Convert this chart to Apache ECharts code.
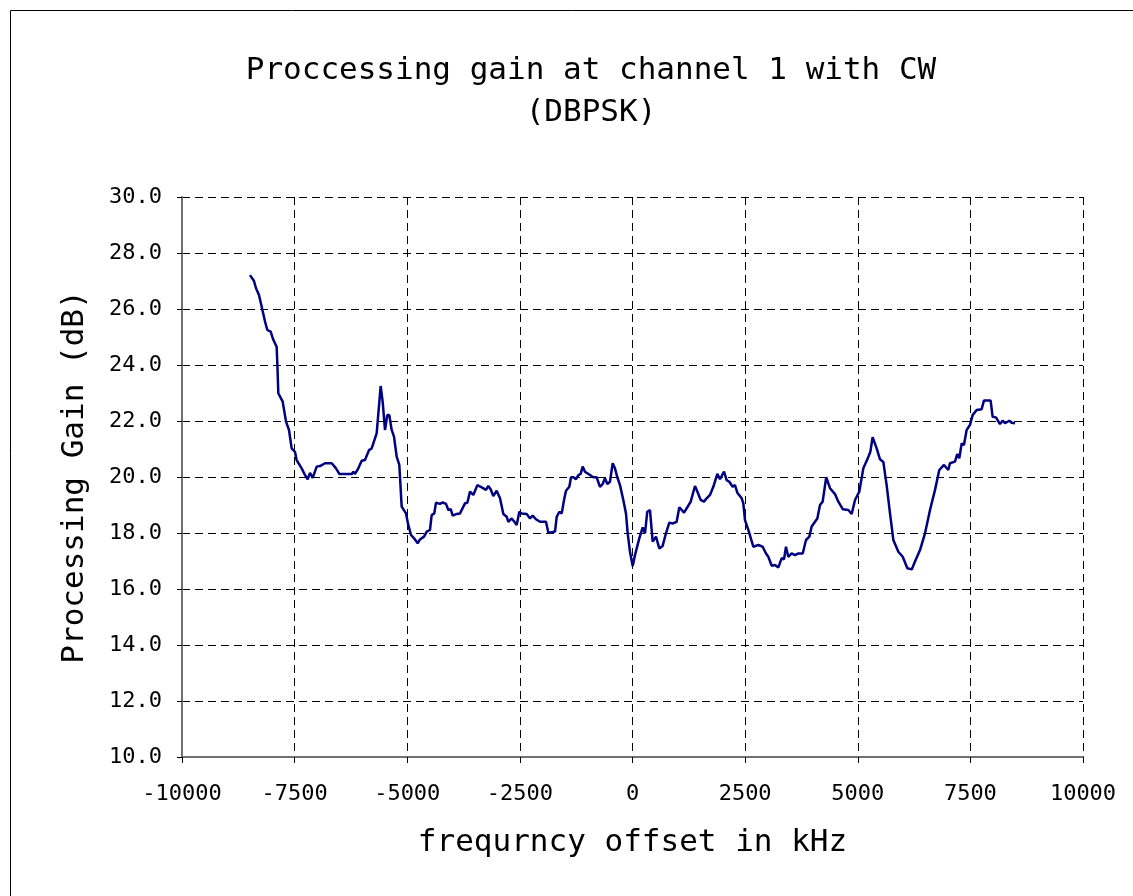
<!DOCTYPE html>
<html><head><meta charset="utf-8">
<script src="https://cdn.jsdelivr.net/npm/echarts@6/dist/echarts.min.js"></script>
<style>html,body{margin:0;padding:0;background:#fff}#c{width:1133px;height:896px}</style>
</head><body><div id="c"></div>
<script>
const titleText = 'Proccessing gain at channel 1 with CW\n(DBPSK)';
const xName = 'frequrncy offset in kHz';
const yName = 'Processing Gain (dB)';
const freq = [-8491,-8402,-8357,-8291,-8231,-8157,-8106,-8032,-7973,-7899,-7884,-7862,-7765,-7691,-7625,-7566,-7492,-7455,-7344,-7270,-7210,-7159,-7099,-7010,-6937,-6826,-6677,-6581,-6508,-6233,-6197,-6160,-6086,-6012,-5938,-5849,-5790,-5679,-5642,-5590,-5546,-5494,-5443,-5398,-5346,-5294,-5235,-5176,-5124,-5028,-4977,-4917,-4828,-4768,-4717,-4628,-4568,-4495,-4458,-4400,-4362,-4273,-4213,-4140,-4088,-4035,-3991,-3902,-3829,-3718,-3666,-3607,-3533,-3444,-3348,-3252,-3201,-3149,-3090,-3016,-2941,-2867,-2793,-2756,-2682,-2622,-2571,-2512,-2460,-2349,-2275,-2216,-2143,-2053,-1920,-1869,-1816,-1720,-1682,-1624,-1571,-1520,-1476,-1402,-1365,-1313,-1254,-1202,-1151,-1106,-1055,-944,-870,-796,-722,-662,-611,-560,-500,-440,-389,-338,-278,-204,-145,-107,-56,4,55,151,226,277,328,388,448,521,595,669,743,817,891,980,1039,1143,1217,1292,1387,1439,1513,1587,1646,1720,1794,1883,1942,2031,2090,2149,2223,2275,2327,2423,2460,2497,2571,2682,2793,2890,2963,3015,3090,3164,3238,3312,3363,3407,3458,3533,3607,3681,3779,3851,3925,3977,4051,4103,4162,4221,4300,4384,4495,4569,4667,4791,4865,4939,5035,5124,5213,5280,5330,5420,5494,5568,5642,5716,5790,5901,5998,6101,6198,6271,6382,6493,6604,6715,6810,6915,7010,7047,7158,7209,7254,7307,7357,7417,7491,7550,7639,7750,7801,7950,7994,8068,8157,8216,8268,8365,8416,8490];
const gain = [27.21,27.0,26.74,26.5,26.08,25.55,25.25,25.19,24.9,24.65,24.06,22.99,22.69,21.98,21.68,21.02,20.9,20.6,20.31,20.07,19.92,20.15,19.97,20.37,20.39,20.49,20.49,20.31,20.11,20.11,20.19,20.11,20.31,20.58,20.61,20.96,21.02,21.56,21.62,23.25,22.69,21.68,22.21,22.21,21.68,21.44,20.73,20.43,18.94,18.70,18.29,17.93,17.77,17.63,17.77,17.87,18.05,18.11,18.64,18.70,19.08,19.04,19.09,19.04,18.82,18.85,18.62,18.68,18.70,19.06,19.08,19.48,19.36,19.71,19.63,19.54,19.68,19.56,19.32,19.51,19.24,18.68,18.58,18.40,18.52,18.40,18.29,18.76,18.70,18.68,18.52,18.62,18.49,18.40,18.40,18.02,18.02,18.05,18.58,18.76,18.70,19.18,19.51,19.65,19.99,19.99,19.92,20.07,20.11,20.37,20.19,20.07,19.99,19.99,19.65,19.75,19.96,19.75,19.83,20.49,20.31,19.99,19.71,19.18,18.70,17.99,17.33,16.82,17.21,17.81,18.20,17.99,18.76,18.82,17.69,17.87,17.45,17.54,17.99,18.37,18.34,18.40,18.92,18.73,18.92,19.12,19.68,19.48,19.18,19.12,19.24,19.36,19.65,20.11,19.92,20.19,19.89,19.83,19.65,19.71,19.44,19.24,19.06,18.46,18.11,17.51,17.57,17.51,17.27,17.15,16.83,16.86,16.77,17.10,17.06,17.51,17.15,17.27,17.21,17.27,17.27,17.75,17.87,18.23,18.40,18.52,19.0,19.12,19.99,19.6,19.39,19.12,18.85,18.82,18.68,19.18,19.48,20.31,20.63,20.9,21.42,21.02,20.63,20.54,19.70,18.70,17.75,17.33,17.15,16.74,16.70,16.98,17.39,17.99,18.82,19.54,20.25,20.43,20.25,20.49,20.55,20.82,20.67,21.20,21.14,21.68,21.86,22.21,22.39,22.42,22.73,22.73,22.15,22.13,21.89,22.01,21.92,22.01,21.94,21.92];
const xTicks = {min: -10000, max: 10000, step: 2500};
const yTicks = {min: 10, max: 30, step: 2};

const FONT = '"DejaVu Sans Mono", "Liberation Mono", monospace';
const chart = echarts.init(document.getElementById('c'), null, {renderer: 'canvas'});
chart.setOption({
  animation: false,
  backgroundColor: '#fff',
  graphic: [{type: 'rect', shape: {x: 10.5, y: 10.5, width: 1200, height: 1000},
    style: {fill: 'none', stroke: '#000', lineWidth: 1}, z: -10}],
  title: {text: titleText, left: 586, top: 45, textAlign: 'center',
    textStyle: {fontFamily: FONT, fontSize: 31, fontWeight: 'normal', color: '#000', lineHeight: 42}},
  grid: {left: 182, right: 50, top: 197, bottom: 139, containLabel: false},
  xAxis: {type: 'value', min: xTicks.min, max: xTicks.max, interval: xTicks.step,
    name: xName, nameLocation: 'middle', nameGap: 70,
    nameTextStyle: {fontFamily: FONT, fontSize: 31, color: '#000'},
    axisLine: {onZero: false, lineStyle: {color: '#707070', width: 2}},
    axisTick: {show: true, length: 6, lineStyle: {color: '#000'}},
    axisLabel: {fontFamily: FONT, fontSize: 22, color: '#000', margin: 26,
      formatter: v => String(v)},
    splitLine: {show: true, lineStyle: {color: '#000', type: [8, 5], width: 1}}},
  yAxis: {type: 'value', min: yTicks.min, max: yTicks.max, interval: yTicks.step,
    name: yName, nameLocation: 'middle', nameGap: 92, nameRotate: 90,
    nameTextStyle: {fontFamily: FONT, fontSize: 31, color: '#000'},
    axisLine: {show: true, onZero: false, lineStyle: {color: '#707070', width: 2}},
    axisTick: {show: true, length: 5, lineStyle: {color: '#000'}},
    axisLabel: {fontFamily: FONT, fontSize: 22, color: '#000', margin: 20,
      formatter: v => v.toFixed(1)},
    splitLine: {show: true, lineStyle: {color: '#000', type: [8, 5], width: 1}}},
  series: [{type: 'line', data: freq.map((f, i) => [f, gain[i]]), showSymbol: false,
    lineStyle: {color: '#000080', width: 2.5}, smooth: false}]
});
</script></body></html>
